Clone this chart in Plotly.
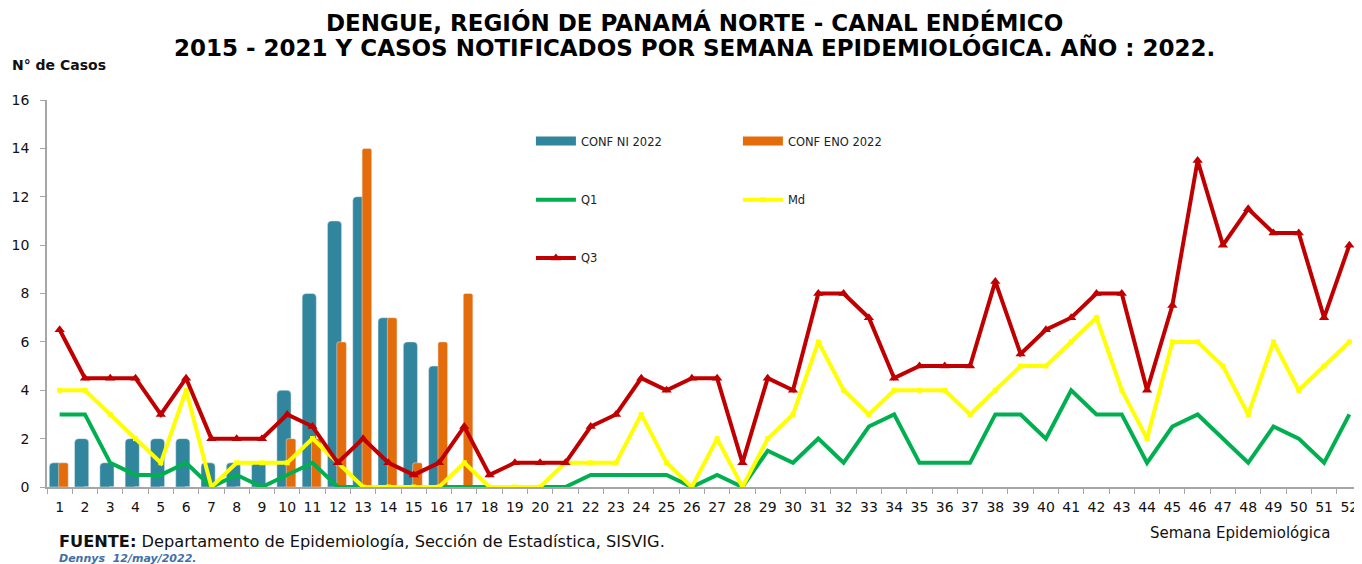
import plotly.graph_objects as go

weeks = [str(w) for w in range(1, 53)]

conf_ni_2022 = [1, 2, 1, 2, 2, 2, 1, 1, 1, 4, 8, 11, 12, 7, 6, 5, 0]
conf_eno_2022 = [1, 0, 0, 0, 0, 0, 0, 0, 0, 2, 2, 6, 14, 7, 1, 6, 8]

q1 = [3, 3, 1, 0.5, 0.5, 1, 0, 0.5, 0, 0.5, 1, 0, 0, 0, 0, 0, 0, 0, 0, 0,
      0, 0.5, 0.5, 0.5, 0.5, 0, 0.5, 0, 1.5, 1, 2, 1, 2.5, 3, 1, 1, 1, 3, 3, 2,
      4, 3, 3, 1, 2.5, 3, 2, 1, 2.5, 2, 1, 3]
md = [4, 4, 3, 2, 1, 4, 0, 1, 1, 1, 2, 1, 0, 0, 0, 0, 1, 0, 0, 0,
      1, 1, 1, 3, 1, 0, 2, 0, 2, 3, 6, 4, 3, 4, 4, 4, 3, 4, 5, 5,
      6, 7, 4, 2, 6, 6, 5, 3, 6, 4, 5, 6]
q3 = [6.5, 4.5, 4.5, 4.5, 3, 4.5, 2, 2, 2, 3, 2.5, 1, 2, 1, 0.5, 1, 2.5, 0.5, 1, 1,
      1, 2.5, 3, 4.5, 4, 4.5, 4.5, 1, 4.5, 4, 8, 8, 7, 4.5, 5, 5, 5, 8.5, 5.5, 6.5,
      7, 8, 8, 4, 7.5, 13.5, 10, 11.5, 10.5, 10.5, 7, 10]

y_ticks = list(range(0, 17, 2))

title_lines = ["DENGUE, REGIÓN DE PANAMÁ NORTE - CANAL ENDÉMICO",
               "2015 - 2021 Y CASOS NOTIFICADOS POR SEMANA EPIDEMIOLÓGICA. AÑO : 2022."]

BODY = "DejaVu Sans, sans-serif"
TITLE = "DejaVu Sans, sans-serif"
C_NI, C_ENO = "#31859C", "#E46C0A"

fig = go.Figure()

fig.add_trace(go.Bar(
    x=weeks[:len(conf_ni_2022)], y=conf_ni_2022, name="CONF NI 2022",
    marker=dict(color=C_NI, cornerradius=4), width=0.56, offset=-0.41,
    showlegend=False))
fig.add_trace(go.Bar(
    x=weeks[:len(conf_eno_2022)], y=conf_eno_2022, name="CONF ENO 2022",
    marker=dict(color=C_ENO, cornerradius=2), width=0.38, offset=-0.04,
    showlegend=False))

# legend entries for the bars (wide rectangular swatches as in the original)
fig.add_trace(go.Scatter(x=[None], y=[None], mode="lines", name="CONF NI 2022",
                         line=dict(color=C_NI, width=9), legend="legend"))
fig.add_trace(go.Scatter(x=[None], y=[None], mode="lines", name="CONF ENO 2022",
                         line=dict(color=C_ENO, width=9), legend="legend"))

fig.add_trace(go.Scatter(
    x=weeks, y=q1, name="Q1", mode="lines",
    line=dict(color="#00B050", width=4), legend="legend2"))
fig.add_trace(go.Scatter(
    x=weeks, y=md, name="Md", mode="lines+markers",
    line=dict(color="#FFFF00", width=4),
    marker=dict(symbol="square", size=5, color="#FFFF00"), legend="legend2"))
fig.add_trace(go.Scatter(
    x=weeks, y=q3, name="Q3", mode="lines+markers",
    line=dict(color="#C00000", width=4),
    marker=dict(symbol="triangle-up", size=9, color="#C00000"), legend="legend3"))

legend_common = dict(orientation="h", xanchor="left", yanchor="middle",
                     font=dict(family=BODY, size=11.5, color="#222"),
                     bgcolor="rgba(0,0,0,0)", entrywidthmode="pixels",
                     entrywidth=152, itemwidth=40, tracegroupgap=0)

# The page body has an 8px margin, so the figure is sized to fit the window.
fig.update_layout(
    width=1354, height=556,
    margin=dict(l=39, r=0, t=92, b=77, autoexpand=False),
    plot_bgcolor="white", paper_bgcolor="white",
    barmode="overlay",
    showlegend=True,
    legend=dict(x=0.368, y=0.894, **legend_common),
    legend2=dict(x=0.368, y=0.742, **legend_common),
    legend3=dict(x=0.368, y=0.592, **legend_common),
    xaxis=dict(type="category", range=[-0.5, 51.5], showgrid=False,
               automargin=False, tickangle=0,
               showline=True, linecolor="#A6A6A6", linewidth=1.5,
               ticks="outside", tickson="boundaries", ticklen=5,
               tickcolor="#A6A6A6", ticklabelstandoff=6,
               tickfont=dict(family=BODY, size=14, color="#111")),
    yaxis=dict(range=[0, 16], tickvals=y_ticks, showgrid=False, zeroline=False,
               automargin=False,
               showline=True, linecolor="#A6A6A6", linewidth=1.5,
               ticks="outside", ticklen=5, tickcolor="#A6A6A6",
               ticklabelstandoff=8,
               tickfont=dict(family=BODY, size=14, color="#111")),
    annotations=[
        dict(text="<b>" + title_lines[0] + "</b>",
             xref="paper", yref="paper", x=0.5, y=1, xshift=-10, yshift=78,
             yanchor="middle", showarrow=False,
             font=dict(family=TITLE, size=23, color="#000")),
        dict(text="<b>" + title_lines[1] + "</b>",
             xref="paper", yref="paper", x=0.5, y=1, xshift=-10, yshift=53,
             yanchor="middle", showarrow=False,
             font=dict(family=TITLE, size=23, color="#000")),
        dict(text="<b>N° de Casos</b>", xref="paper", yref="paper",
             x=0, xshift=-37, y=1, yshift=35, xanchor="left", yanchor="middle",
             showarrow=False, font=dict(family=BODY, size=14, color="#111")),
        dict(text="Semana Epidemiológica", xref="paper", yref="paper",
             x=1, xshift=-30, y=0, yshift=-46, xanchor="right", yanchor="middle",
             showarrow=False, font=dict(family=BODY, size=15, color="#111")),
        dict(text="<b>FUENTE:</b> Departamento de Epidemiología, Sección de Estadística, SISVIG.",
             xref="paper", yref="paper", x=0, xshift=10, y=0, yshift=-54,
             xanchor="left", yanchor="middle", showarrow=False,
             font=dict(family=BODY, size=16.2, color="#111")),
        dict(text="<b><i>Dennys  12/may/2022.</i></b>",
             xref="paper", yref="paper", x=0, xshift=10, y=0, yshift=-71,
             xanchor="left", yanchor="middle", showarrow=False,
             font=dict(family=BODY, size=11, color="#3F6FA8")),
    ],
)

fig.write_html("out.html")
